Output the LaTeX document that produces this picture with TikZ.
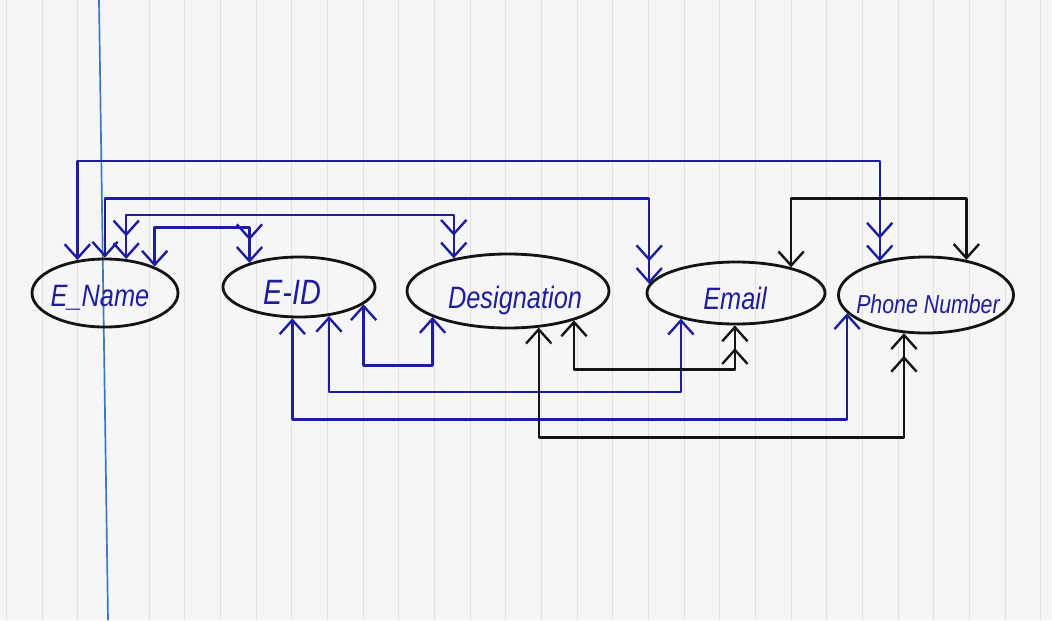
\documentclass[tikz,border=0pt]{standalone}
\usepackage{fontspec}
\setmainfont{Liberation Sans}
\newfontfamily\hand[FakeStretch=0.82]{Liberation Sans}
\usetikzlibrary{arrows.meta,shapes.geometric}
\definecolor{ink}{HTML}{1E1E9C}
\definecolor{pen}{HTML}{141414}
\definecolor{paper}{HTML}{F6F6F8}
\definecolor{rulecol}{HTML}{E6DEE2}
\definecolor{margincol}{HTML}{3A78C2}
\tikzset{
  hb/.tip={Straight Barb[length=10pt,width=18pt]},
  hbb/.tip={Straight Barb[length=10pt,width=18pt,sep=4pt] Straight Barb[length=10pt,width=18pt]},
  blob/.style={ellipse,draw=pen,line width=2pt,inner sep=0pt},
  word/.style={text=ink,font=\hand\itshape\fontsize{22}{24}\selectfont,inner sep=0pt},
  blueline/.style={draw=ink,line width=1.7pt,line join=round},
  blackline/.style={draw=pen,line width=1.7pt,line join=round},
  paperline/.style={draw=rulecol,line width=0.7pt},
}
\begin{document}
\begin{tikzpicture}[x=0.025cm,y=-0.025cm]
\fill[paper] (0,0) rectangle (1052,620);
\useasboundingbox (0,0) rectangle (1052,620);
% paper rules
\foreach \k in {0,1,2,4,5,...,29}{
  \draw[paperline] ({6.5+35.67*\k},0) -- ({6.5+35.67*\k},620);
}
\draw[draw=margincol,line width=1.2pt] (99,0) -- (108,620);

% entities
\node[blob,minimum width=3.65cm,minimum height=1.7cm] (en) at (105,293) {};
\node[blob,minimum width=3.8cm,minimum height=1.5cm] (ei) at (299,287) {};
\node[blob,minimum width=5.05cm,minimum height=1.85cm] (de) at (508,291) {};
\node[blob,minimum width=4.45cm,minimum height=1.55cm] (em) at (736,293) {};
\node[blob,minimum width=4.375cm,minimum height=1.9cm] (ph) at (926,295) {};

\node[word] (tn) at (100,298) {E\_Name};
\node[word,font=\hand\itshape\fontsize{25}{27}\selectfont] (ti) at (292,292) {E-ID};
\node[word] (td) at (515,300) {Designation};
\node[word] (te) at (735,298) {Email};
\node[word,font=\hand\itshape\fontsize{18.5}{21}\selectfont] (tp) at (928,304) {Phone Number};

% top connectors (blue)
\draw[blueline,hb-hbb] (en.130.5) -- ++(0,-99) -| (ph.144.9);
\draw[blueline,hb-hbb] (en.90) -- ++(0,-59) -| (em.174.7);
\draw[blueline,hbb-hbb] (en.58.5) -- ++(0,-44) -| (de.149.3);
\draw[blueline,hb-hbb] (en.28.1) -- ++(0,-39) -| (ei.154.9);
% top connector (black)
\draw[blackline,hb-hb] (em.25.9) -- ++(0,-69) -| (ph.41.1);

% bottom connectors (blue)
\draw[blueline,hb-hb] (ei.258.7) -- ++(0,101) -| (ph.193.9);
\draw[blueline,hb-hb] (ei.316.3) -- ++(0,76) -| (em.205.2);
\draw[blueline,hb-hb] (ei.345.8) -- ++(0,61) -| (de.199.3);
% bottom connectors (black)
\draw[blackline,hb-hbb] (de.310.4) -- ++(0,110) -| (ph.240.4);
\draw[blackline,hb-hbb] (de.336.5) -- ++(0,49) -| (em.268);
\end{tikzpicture}
\end{document}
